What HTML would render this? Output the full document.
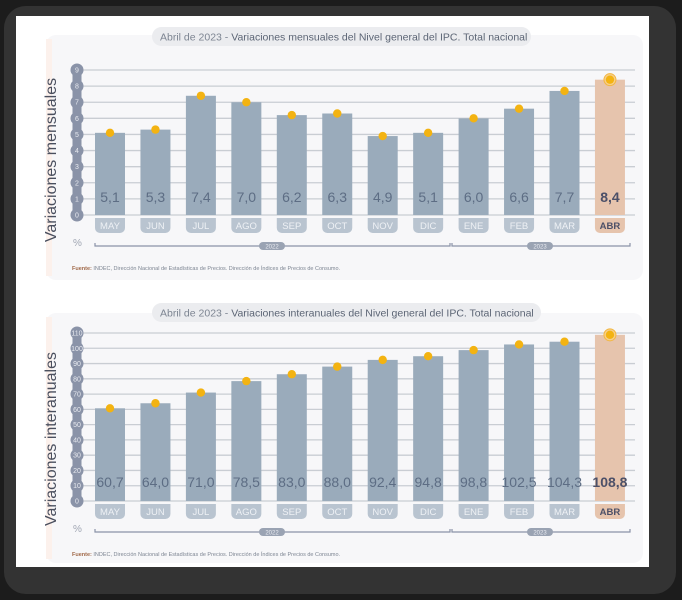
<!DOCTYPE html>
<html><head><meta charset="utf-8">
<style>
html,body{margin:0;padding:0;background:#2a2a2a;}
body{width:682px;height:600px;overflow:hidden;position:relative;font-family:"Liberation Sans",sans-serif;}
svg{position:absolute;left:0;top:0;}
</style></head>
<body>
<svg id="s" width="682" height="600" viewBox="0 0 682 600">
<rect x="0" y="0" width="682" height="600" fill="#1c1c1c"/>
<rect x="4" y="6" width="672" height="588" rx="22" fill="#333"/>
<rect x="16" y="16" width="633" height="551" fill="#ffffff"/>
</svg>
<script>
const months=["MAY","JUN","JUL","AGO","SEP","OCT","NOV","DIC","ENE","FEB","MAR","ABR"];
const monthly=[5.1,5.3,7.4,7.0,6.2,6.3,4.9,5.1,6.0,6.6,7.7,8.4];
const monthlyLabels=["5,1","5,3","7,4","7,0","6,2","6,3","4,9","5,1","6,0","6,6","7,7","8,4"];
const monthlyTicks=[0,1,2,3,4,5,6,7,8,9];
const yearly=[60.7,64.0,71.0,78.5,83.0,88.0,92.4,94.8,98.8,102.5,104.3,108.8];
const yearlyLabels=["60,7","64,0","71,0","78,5","83,0","88,0","92,4","94,8","98,8","102,5","104,3","108,8"];
const yearlyTicks=[0,10,20,30,40,50,60,70,80,90,100,110];
const years=["2022","2023"];

const NS="http://www.w3.org/2000/svg";
const svg=document.getElementById('s');
function mk(tag,attrs,parent,text){const e=document.createElementNS(NS,tag);for(const k in attrs)e.setAttribute(k,attrs[k]);if(text!==undefined)e.textContent=text;(parent||svg).appendChild(e);return e;}

function chart(o){
  const g=mk('g',{});
  
  
  const card=mk('rect',{x:46,y:o.cardTop,width:597,height:o.cardBot-o.cardTop,rx:10,fill:'#f7f7f9'},g);
  
  
  mk('rect',{x:46,y:o.cardTop+4,width:6,height:o.cardBot-o.cardTop-8,fill:'#fcf1ec'},g);
  const pill=mk('rect',{x:152,y:o.titleY,width:o.titleW,height:19,rx:9.5,fill:'#ebecef'},g);
  
  
  const t=mk('text',{x:160,y:o.titleY+13.5,'font-size':'10.5',fill:'#7d8592'},g);
  
  
  mk('tspan',{},t,'Abril de 2023 - ');
  mk('tspan',{fill:'#5c6575'},t,o.title);
  const max=o.ticks[o.ticks.length-1];
  const y=v=>o.y0-(v/max)*(o.y0-o.yTop);
  const x=i=>110+i*45.45;
  o.ticks.forEach(tv=>{
    const yy=y(tv);
    const l=mk('line',{x1:77,x2:635,y1:yy,y2:yy,stroke:'#c9cdd3','stroke-width':1.3},g);
    
    
  });
  mk('line',{x1:77,x2:77,y1:y(max),y2:o.y0,stroke:'#8a93a8','stroke-width':9,'stroke-linecap':'round'},g);
  o.ticks.forEach(tv=>{
    const yy=y(tv);
    const c=mk('circle',{cx:77,cy:yy,r:6.5,fill:'#8a93a8'},g);
    
    
    const tt=mk('text',{x:77,y:yy+2.5,'font-size':'7','text-anchor':'middle',fill:'#e8eaf0'},g,String(tv));
    
    
  });
  o.values.forEach((v,i)=>{
    const last=i===o.values.length-1;
    const cx=x(i);
    const b=mk('rect',{x:cx-15,y:y(v),width:30,height:o.y0-y(v),fill:last?'#e6c4ad':'#9aabbb'},g);
    
    
    const lb=mk('text',{x:cx,y:o.valY,'font-size':o.valSize,'text-anchor':'middle',fill:last?'#4c5068':'#5d6d84','font-weight':last?'bold':'normal'},g,o.labels[i]);
    
    
    if(last){mk('circle',{cx:cx,cy:y(v),r:6,fill:'#f7cf8a',stroke:'#f2b640','stroke-width':1},g);}
    const d=mk('circle',{cx:cx,cy:y(v),r:4.2,fill:'#f3b312'},g);
    
    
    const mp=mk('path',{d:`M${cx-15},${o.y0+3}h30v10a5,5 0 0 1 -5,5h-20a5,5 0 0 1 -5,-5z`,fill:last?'#e6c4ad':'#b9c4d0'},g);
    
    
    const mt=mk('text',{x:cx,y:o.y0+14,'font-size':'9.5','text-anchor':'middle',fill:last?'#4c5068':'#eef1f5','font-weight':last?'bold':'normal'},g,months[i]);
    
    
  });
  const ly=o.y0+31;
  mk('path',{d:`M95,${ly-3}v3h355v-3M452,${ly-3}v3h178v-3`,fill:'none',stroke:'#8a93a8','stroke-width':1.2},g);
  [[272,years[0]],[540,years[1]]].forEach(([px,yr])=>{
    mk('rect',{x:px-13,y:ly-4,width:26,height:8,rx:4,fill:'#9aa3b3'},g);
    const yt=mk('text',{x:px,y:ly+2.5,'font-size':'6','text-anchor':'middle',fill:'#e8eaf0'},g,yr);
    
    
  });
  const pc=mk('text',{x:73,y:ly,'font-size':'10',fill:'#a0a6b3'},g,'%');
  
  
  const yt=mk('text',{x:0,y:0,'font-size':'16','text-anchor':'middle',fill:'#4a4f5e',transform:`translate(56,${o.titleCy}) rotate(-90)`},g,o.yTitle);
  
  
  const f=mk('text',{x:72,y:o.srcY,'font-size':'5.5',fill:'#7d8592'},g);
  
  
  mk('tspan',{'font-weight':'bold',fill:'#a06848'},f,'Fuente: ');
  mk('tspan',{},f,'INDEC, Dirección Nacional de Estadísticas de Precios. Dirección de Índices de Precios de Consumo.');
}

chart({name:'monthly-chart',cardTop:35,cardBot:280,titleY:27,titleW:379,title:'Variaciones mensuales del Nivel general del IPC. Total nacional',
  ticks:monthlyTicks,values:monthly,labels:monthlyLabels,y0:215,yTop:70,valY:202,valSize:14,yTitle:'Variaciones mensuales',titleCy:160,srcY:270});
chart({name:'yearly-chart',cardTop:313,cardBot:563,titleY:303,titleW:389,title:'Variaciones interanuales del Nivel general del IPC. Total nacional',
  ticks:yearlyTicks,values:yearly,labels:yearlyLabels,y0:501,yTop:333,valY:487,valSize:14,yTitle:'Variaciones interanuales',titleCy:439,srcY:556});
</script>
</body></html>
